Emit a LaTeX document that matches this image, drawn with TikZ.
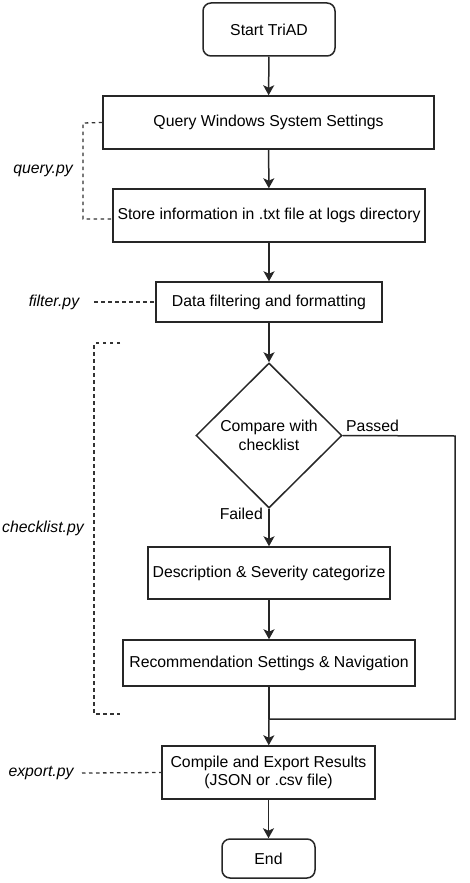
\documentclass[tikz,border=0pt]{standalone}
\usepackage{fontspec}
\setmainfont{Liberation Sans}
\usetikzlibrary{arrows.meta,shapes.geometric}
\begin{document}
\begin{tikzpicture}[x=1pt,y=-1pt,
  every node/.style={font=\fontsize{15.8}{18.5}\selectfont, inner sep=0pt},
  proc/.style={draw=black!85, line width=1.5pt, fill=white, align=center},
  term/.style={proc, rounded corners=8pt},
  flow/.style={draw=black!85, line width=1.5pt, -{Stealth[length=10pt,width=11pt,inset=2.5pt]}},
  link/.style={draw=black!85, line width=1.5pt},
  dashline/.style={draw=black!80, line width=1.3pt, dash pattern=on 3.5pt off 3.5pt},
  lbl/.style={font=\fontsize{15.8}{18.5}\selectfont\itshape}]
\useasboundingbox (0,0) rectangle (469,883);
\node[term, minimum width=132pt, minimum height=53pt] (start) at (269,29.5) {Start TriAD};
\node[proc, minimum width=331pt, minimum height=53pt] (query) at (268.5,122.5) {Query Windows System Settings};
\node[proc, minimum width=312pt, minimum height=53pt] (store) at (269,215.5) {Store information in .txt file at logs directory};
\node[proc, minimum width=226pt, minimum height=40pt] (filter) at (269,302) {Data filtering and formatting};
\node[diamond, draw=black!85, line width=1.5pt, minimum width=146pt, minimum height=145pt, align=center] (cmp) at (269,435.5) {Compare with\\checklist};
\node[proc, minimum width=242pt, minimum height=52pt] (desc) at (269,573) {Description \& Severity categorize};
\node[proc, minimum width=292pt, minimum height=46pt] (rec) at (269,663) {Recommendation Settings \& Navigation};
\node[proc, minimum width=213pt, minimum height=53pt] (comp) at (268.5,772.5) {Compile and Export Results\\(JSON or .csv file)};
\node[term, minimum width=93pt, minimum height=39pt] (end) at (268.5,858.5) {End};

\coordinate (pr) at (455,436);
\coordinate (pb) at (455,719);
\coordinate (merge) at (269,719);

\draw[flow] (start) -- (query);
\draw[flow] (query) -- (store);
\draw[flow] (store) -- (filter);
\draw[flow] (filter) -- (cmp);
\draw[flow] (cmp) -- (desc);
\draw[flow] (desc) -- (rec);
\draw[link] (rec) -- (merge);
\draw[link] (cmp.east) -- (pr) -- (pb) -- (merge);
\draw[flow] (merge) -- (comp);
\draw[flow] (comp) -- (end);

\node[anchor=west] (passed) at (346,426) {Passed};
\node[anchor=east] (failed) at (263,514) {Failed};

% module labels
\node[lbl] (qpy) at (43,171) {query.py};
\node[lbl] (fpy) at (54,302) {filter.py};
\node[lbl] (cpy) at (43,528) {checklist.py};
\node[lbl] (epy) at (41,773) {export.py};

\coordinate (qa) at (83,123);
\coordinate (qb) at (83,219);
\draw[dashline] (query.west) -- (qa) -- (qb) -- (store.west |- qb);
\draw[dashline] (94,302) -- (filter.west);
\coordinate (ca) at (94,343);
\coordinate (cb) at (94,714);
\draw[dashline] (120,343) -- (ca) -- (cb) -- (120,714);
\draw[dashline] (82,773) -- (comp.west);
\end{tikzpicture}
\end{document}
